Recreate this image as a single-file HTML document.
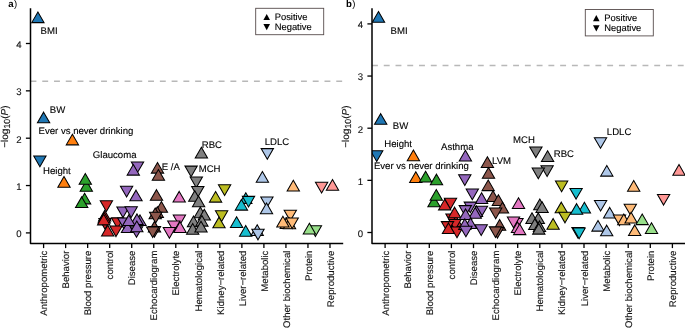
<!DOCTYPE html>
<html><head><meta charset="utf-8"><style>
html,body{margin:0;padding:0;background:#fff;width:685px;height:328px;overflow:hidden}
svg{display:block;will-change:transform}
text{font-family:"Liberation Sans",sans-serif;fill:#1a1a1a;text-rendering:geometricPrecision}
.tk{font-size:9.6px;fill:#111;stroke:#111;stroke-width:0.12px}
.lb{font-size:9.6px;fill:#000;stroke:#000;stroke-width:0.12px}
.lg{font-size:9.4px;fill:#000;stroke:#000;stroke-width:0.12px}
.pl{font-size:9.6px;font-weight:bold;fill:#000}
</style></head><body>
<svg width="685" height="328" viewBox="0 0 685 328">
<rect width="685" height="328" fill="#fff"/>
<line x1="30.5" y1="81.25" x2="343.2" y2="81.25" stroke="#B8B8B8" stroke-width="1.5" stroke-dasharray="5.9 5.86"/>
<clipPath id="cp0"><rect x="30.5" y="0" width="312.7" height="243.5"/></clipPath><g clip-path="url(#cp0)">
<polygon points="37.90,11.95 44.05,22.60 31.75,22.60" fill="#1F77B4" stroke="#000" stroke-width="1.05" stroke-linejoin="miter"/>
<polygon points="43.60,112.15 49.75,122.80 37.45,122.80" fill="#1F77B4" stroke="#000" stroke-width="1.05" stroke-linejoin="miter"/>
<polygon points="39.90,166.70 46.05,156.05 33.75,156.05" fill="#1F77B4" stroke="#000" stroke-width="1.05" stroke-linejoin="miter"/>
<polygon points="72.40,134.20 78.55,144.85 66.25,144.85" fill="#FF7F0E" stroke="#000" stroke-width="1.05" stroke-linejoin="miter"/>
<polygon points="64.00,176.60 70.15,187.25 57.85,187.25" fill="#FF7F0E" stroke="#000" stroke-width="1.05" stroke-linejoin="miter"/>
<polygon points="84.60,193.20 90.75,203.85 78.45,203.85" fill="#2CA02C" stroke="#000" stroke-width="1.05" stroke-linejoin="miter"/>
<polygon points="81.70,196.90 87.85,207.55 75.55,207.55" fill="#2CA02C" stroke="#000" stroke-width="1.05" stroke-linejoin="miter"/>
<polygon points="86.30,180.50 92.45,191.15 80.15,191.15" fill="#2CA02C" stroke="#000" stroke-width="1.05" stroke-linejoin="miter"/>
<polygon points="85.30,173.50 91.45,184.15 79.15,184.15" fill="#2CA02C" stroke="#000" stroke-width="1.05" stroke-linejoin="miter"/>
<polygon points="106.40,211.45 112.55,200.80 100.25,200.80" fill="#D62728" stroke="#000" stroke-width="1.05" stroke-linejoin="miter"/>
<polygon points="105.00,229.10 111.15,218.45 98.85,218.45" fill="#D62728" stroke="#000" stroke-width="1.05" stroke-linejoin="miter"/>
<polygon points="117.50,228.50 123.65,217.85 111.35,217.85" fill="#D62728" stroke="#000" stroke-width="1.05" stroke-linejoin="miter"/>
<polygon points="104.70,210.40 110.85,221.05 98.55,221.05" fill="#D62728" stroke="#000" stroke-width="1.05" stroke-linejoin="miter"/>
<polygon points="104.20,212.40 110.35,223.05 98.05,223.05" fill="#D62728" stroke="#000" stroke-width="1.05" stroke-linejoin="miter"/>
<polygon points="103.70,214.20 109.85,224.85 97.55,224.85" fill="#D62728" stroke="#000" stroke-width="1.05" stroke-linejoin="miter"/>
<polygon points="116.00,236.60 122.15,225.95 109.85,225.95" fill="#D62728" stroke="#000" stroke-width="1.05" stroke-linejoin="miter"/>
<polygon points="107.70,225.35 113.85,236.00 101.55,236.00" fill="#D62728" stroke="#000" stroke-width="1.05" stroke-linejoin="miter"/>
<polygon points="126.60,196.90 132.75,186.25 120.45,186.25" fill="#9467BD" stroke="#000" stroke-width="1.05" stroke-linejoin="miter"/>
<polygon points="137.50,172.60 143.65,161.95 131.35,161.95" fill="#9467BD" stroke="#000" stroke-width="1.05" stroke-linejoin="miter"/>
<polygon points="133.30,164.45 139.45,175.10 127.15,175.10" fill="#9467BD" stroke="#000" stroke-width="1.05" stroke-linejoin="miter"/>
<polygon points="136.00,190.15 142.15,200.80 129.85,200.80" fill="#9467BD" stroke="#000" stroke-width="1.05" stroke-linejoin="miter"/>
<polygon points="140.00,214.90 146.15,225.55 133.85,225.55" fill="#9467BD" stroke="#000" stroke-width="1.05" stroke-linejoin="miter"/>
<polygon points="137.00,213.90 143.15,224.55 130.85,224.55" fill="#9467BD" stroke="#000" stroke-width="1.05" stroke-linejoin="miter"/>
<polygon points="127.50,221.90 133.65,232.55 121.35,232.55" fill="#9467BD" stroke="#000" stroke-width="1.05" stroke-linejoin="miter"/>
<polygon points="123.80,228.60 129.95,217.95 117.65,217.95" fill="#9467BD" stroke="#000" stroke-width="1.05" stroke-linejoin="miter"/>
<polygon points="128.80,214.90 134.95,225.55 122.65,225.55" fill="#9467BD" stroke="#000" stroke-width="1.05" stroke-linejoin="miter"/>
<polygon points="136.50,237.30 142.65,226.65 130.35,226.65" fill="#9467BD" stroke="#000" stroke-width="1.05" stroke-linejoin="miter"/>
<polygon points="136.80,221.00 142.95,231.65 130.65,231.65" fill="#9467BD" stroke="#000" stroke-width="1.05" stroke-linejoin="miter"/>
<polygon points="123.00,217.60 129.15,206.95 116.85,206.95" fill="#9467BD" stroke="#000" stroke-width="1.05" stroke-linejoin="miter"/>
<polygon points="131.20,217.40 137.35,206.75 125.05,206.75" fill="#9467BD" stroke="#000" stroke-width="1.05" stroke-linejoin="miter"/>
<polygon points="157.50,162.45 163.65,173.10 151.35,173.10" fill="#8C564B" stroke="#000" stroke-width="1.05" stroke-linejoin="miter"/>
<polygon points="158.40,169.55 164.55,180.20 152.25,180.20" fill="#8C564B" stroke="#000" stroke-width="1.05" stroke-linejoin="miter"/>
<polygon points="156.50,189.65 162.65,200.30 150.35,200.30" fill="#8C564B" stroke="#000" stroke-width="1.05" stroke-linejoin="miter"/>
<polygon points="161.40,201.55 167.55,212.20 155.25,212.20" fill="#8C564B" stroke="#000" stroke-width="1.05" stroke-linejoin="miter"/>
<polygon points="157.30,206.70 163.45,217.35 151.15,217.35" fill="#8C564B" stroke="#000" stroke-width="1.05" stroke-linejoin="miter"/>
<polygon points="155.20,208.10 161.35,218.75 149.05,218.75" fill="#8C564B" stroke="#000" stroke-width="1.05" stroke-linejoin="miter"/>
<polygon points="155.70,222.95 161.85,212.30 149.55,212.30" fill="#8C564B" stroke="#000" stroke-width="1.05" stroke-linejoin="miter"/>
<polygon points="154.50,221.40 160.65,232.05 148.35,232.05" fill="#8C564B" stroke="#000" stroke-width="1.05" stroke-linejoin="miter"/>
<polygon points="154.50,237.10 160.65,226.45 148.35,226.45" fill="#8C564B" stroke="#000" stroke-width="1.05" stroke-linejoin="miter"/>
<polygon points="152.70,237.55 158.85,226.90 146.55,226.90" fill="#8C564B" stroke="#000" stroke-width="1.05" stroke-linejoin="miter"/>
<polygon points="179.20,191.40 185.35,202.05 173.05,202.05" fill="#E377C2" stroke="#000" stroke-width="1.05" stroke-linejoin="miter"/>
<polygon points="179.40,225.65 185.55,215.00 173.25,215.00" fill="#E377C2" stroke="#000" stroke-width="1.05" stroke-linejoin="miter"/>
<polygon points="173.80,231.55 179.95,220.90 167.65,220.90" fill="#E377C2" stroke="#000" stroke-width="1.05" stroke-linejoin="miter"/>
<polygon points="180.00,221.75 186.15,232.40 173.85,232.40" fill="#E377C2" stroke="#000" stroke-width="1.05" stroke-linejoin="miter"/>
<polygon points="169.40,238.15 175.55,227.50 163.25,227.50" fill="#E377C2" stroke="#000" stroke-width="1.05" stroke-linejoin="miter"/>
<polygon points="201.40,147.25 207.55,157.90 195.25,157.90" fill="#7F7F7F" stroke="#000" stroke-width="1.05" stroke-linejoin="miter"/>
<polygon points="191.10,176.75 197.25,166.10 184.95,166.10" fill="#7F7F7F" stroke="#000" stroke-width="1.05" stroke-linejoin="miter"/>
<polygon points="196.30,187.65 202.45,177.00 190.15,177.00" fill="#7F7F7F" stroke="#000" stroke-width="1.05" stroke-linejoin="miter"/>
<polygon points="197.80,197.15 203.95,186.50 191.65,186.50" fill="#7F7F7F" stroke="#000" stroke-width="1.05" stroke-linejoin="miter"/>
<polygon points="194.80,190.65 200.95,201.30 188.65,201.30" fill="#7F7F7F" stroke="#000" stroke-width="1.05" stroke-linejoin="miter"/>
<polygon points="198.60,196.05 204.75,206.70 192.45,206.70" fill="#7F7F7F" stroke="#000" stroke-width="1.05" stroke-linejoin="miter"/>
<polygon points="200.30,207.05 206.45,217.70 194.15,217.70" fill="#7F7F7F" stroke="#000" stroke-width="1.05" stroke-linejoin="miter"/>
<polygon points="204.30,209.25 210.45,219.90 198.15,219.90" fill="#7F7F7F" stroke="#000" stroke-width="1.05" stroke-linejoin="miter"/>
<polygon points="193.50,216.05 199.65,226.70 187.35,226.70" fill="#7F7F7F" stroke="#000" stroke-width="1.05" stroke-linejoin="miter"/>
<polygon points="201.90,215.45 208.05,226.10 195.75,226.10" fill="#7F7F7F" stroke="#000" stroke-width="1.05" stroke-linejoin="miter"/>
<polygon points="192.70,223.55 198.85,234.20 186.55,234.20" fill="#7F7F7F" stroke="#000" stroke-width="1.05" stroke-linejoin="miter"/>
<polygon points="201.00,221.35 207.15,232.00 194.85,232.00" fill="#7F7F7F" stroke="#000" stroke-width="1.05" stroke-linejoin="miter"/>
<polygon points="224.60,195.45 230.75,184.80 218.45,184.80" fill="#BCBD22" stroke="#000" stroke-width="1.05" stroke-linejoin="miter"/>
<polygon points="215.60,191.45 221.75,202.10 209.45,202.10" fill="#BCBD22" stroke="#000" stroke-width="1.05" stroke-linejoin="miter"/>
<polygon points="221.60,221.45 227.75,210.80 215.45,210.80" fill="#BCBD22" stroke="#000" stroke-width="1.05" stroke-linejoin="miter"/>
<polygon points="219.00,217.15 225.15,227.80 212.85,227.80" fill="#BCBD22" stroke="#000" stroke-width="1.05" stroke-linejoin="miter"/>
<polygon points="245.80,192.70 251.95,203.35 239.65,203.35" fill="#17BECF" stroke="#000" stroke-width="1.05" stroke-linejoin="miter"/>
<polygon points="248.50,207.00 254.65,196.35 242.35,196.35" fill="#17BECF" stroke="#000" stroke-width="1.05" stroke-linejoin="miter"/>
<polygon points="241.40,199.45 247.55,210.10 235.25,210.10" fill="#17BECF" stroke="#000" stroke-width="1.05" stroke-linejoin="miter"/>
<polygon points="236.60,216.75 242.75,227.40 230.45,227.40" fill="#17BECF" stroke="#000" stroke-width="1.05" stroke-linejoin="miter"/>
<polygon points="245.70,225.55 251.85,236.20 239.55,236.20" fill="#17BECF" stroke="#000" stroke-width="1.05" stroke-linejoin="miter"/>
<polygon points="267.30,159.25 273.45,148.60 261.15,148.60" fill="#AEC7E8" stroke="#000" stroke-width="1.05" stroke-linejoin="miter"/>
<polygon points="262.40,171.55 268.55,182.20 256.25,182.20" fill="#AEC7E8" stroke="#000" stroke-width="1.05" stroke-linejoin="miter"/>
<polygon points="266.90,207.60 273.05,196.95 260.75,196.95" fill="#AEC7E8" stroke="#000" stroke-width="1.05" stroke-linejoin="miter"/>
<polygon points="266.50,203.05 272.65,213.70 260.35,213.70" fill="#AEC7E8" stroke="#000" stroke-width="1.05" stroke-linejoin="miter"/>
<polygon points="257.20,224.80 263.35,235.45 251.05,235.45" fill="#AEC7E8" stroke="#000" stroke-width="1.05" stroke-linejoin="miter"/>
<polygon points="258.00,239.85 264.15,229.20 251.85,229.20" fill="#AEC7E8" stroke="#000" stroke-width="1.05" stroke-linejoin="miter"/>
<polygon points="293.30,180.30 299.45,190.95 287.15,190.95" fill="#FFBB78" stroke="#000" stroke-width="1.05" stroke-linejoin="miter"/>
<polygon points="290.30,220.85 296.45,210.20 284.15,210.20" fill="#FFBB78" stroke="#000" stroke-width="1.05" stroke-linejoin="miter"/>
<polygon points="286.30,217.75 292.45,228.40 280.15,228.40" fill="#FFBB78" stroke="#000" stroke-width="1.05" stroke-linejoin="miter"/>
<polygon points="289.50,218.10 295.65,228.75 283.35,228.75" fill="#FFBB78" stroke="#000" stroke-width="1.05" stroke-linejoin="miter"/>
<polygon points="282.90,216.25 289.05,226.90 276.75,226.90" fill="#FFBB78" stroke="#000" stroke-width="1.05" stroke-linejoin="miter"/>
<polygon points="292.20,228.55 298.35,217.90 286.05,217.90" fill="#FFBB78" stroke="#000" stroke-width="1.05" stroke-linejoin="miter"/>
<polygon points="315.40,236.45 321.55,225.80 309.25,225.80" fill="#98DF8A" stroke="#000" stroke-width="1.05" stroke-linejoin="miter"/>
<polygon points="309.40,223.25 315.55,233.90 303.25,233.90" fill="#98DF8A" stroke="#000" stroke-width="1.05" stroke-linejoin="miter"/>
<polygon points="321.60,192.95 327.75,182.30 315.45,182.30" fill="#FF9896" stroke="#000" stroke-width="1.05" stroke-linejoin="miter"/>
<polygon points="332.50,179.55 338.65,190.20 326.35,190.20" fill="#FF9896" stroke="#000" stroke-width="1.05" stroke-linejoin="miter"/>
</g>
<path d="M30.5,8.2 V243.5 H343.2" fill="none" stroke="#000" stroke-width="1.5" stroke-linecap="butt" stroke-linejoin="round"/>
<line x1="25.9" y1="232.90" x2="30.5" y2="232.90" stroke="#000" stroke-width="1.3"/>
<text x="21.7" y="237.20" text-anchor="end" class="tk">0</text>
<line x1="25.9" y1="185.55" x2="30.5" y2="185.55" stroke="#000" stroke-width="1.3"/>
<text x="21.7" y="189.85" text-anchor="end" class="tk">1</text>
<line x1="25.9" y1="138.20" x2="30.5" y2="138.20" stroke="#000" stroke-width="1.3"/>
<text x="21.7" y="142.50" text-anchor="end" class="tk">2</text>
<line x1="25.9" y1="90.85" x2="30.5" y2="90.85" stroke="#000" stroke-width="1.3"/>
<text x="21.7" y="95.15" text-anchor="end" class="tk">3</text>
<line x1="25.9" y1="43.50" x2="30.5" y2="43.50" stroke="#000" stroke-width="1.3"/>
<text x="21.7" y="47.80" text-anchor="end" class="tk">4</text>
<line x1="43.60" y1="243.5" x2="43.60" y2="248.1" stroke="#000" stroke-width="1.3"/>
<text transform="translate(47.30,250.6) rotate(-90)" text-anchor="end" class="tk">Anthropometric</text>
<line x1="65.63" y1="243.5" x2="65.63" y2="248.1" stroke="#000" stroke-width="1.3"/>
<text transform="translate(69.33,250.6) rotate(-90)" text-anchor="end" class="tk">Behavior</text>
<line x1="87.66" y1="243.5" x2="87.66" y2="248.1" stroke="#000" stroke-width="1.3"/>
<text transform="translate(91.36,250.6) rotate(-90)" text-anchor="end" class="tk">Blood pressure</text>
<line x1="109.69" y1="243.5" x2="109.69" y2="248.1" stroke="#000" stroke-width="1.3"/>
<text transform="translate(113.39,250.6) rotate(-90)" text-anchor="end" class="tk">control</text>
<line x1="131.72" y1="243.5" x2="131.72" y2="248.1" stroke="#000" stroke-width="1.3"/>
<text transform="translate(135.42,250.6) rotate(-90)" text-anchor="end" class="tk">Disease</text>
<line x1="153.75" y1="243.5" x2="153.75" y2="248.1" stroke="#000" stroke-width="1.3"/>
<text transform="translate(157.45,250.6) rotate(-90)" text-anchor="end" class="tk">Echocardiogram</text>
<line x1="175.78" y1="243.5" x2="175.78" y2="248.1" stroke="#000" stroke-width="1.3"/>
<text transform="translate(179.48,250.6) rotate(-90)" text-anchor="end" class="tk">Electrolyte</text>
<line x1="197.81" y1="243.5" x2="197.81" y2="248.1" stroke="#000" stroke-width="1.3"/>
<text transform="translate(201.51,250.6) rotate(-90)" text-anchor="end" class="tk">Hematological</text>
<line x1="219.84" y1="243.5" x2="219.84" y2="248.1" stroke="#000" stroke-width="1.3"/>
<text transform="translate(223.54,250.6) rotate(-90)" text-anchor="end" class="tk">Kidney−related</text>
<line x1="241.87" y1="243.5" x2="241.87" y2="248.1" stroke="#000" stroke-width="1.3"/>
<text transform="translate(245.57,250.6) rotate(-90)" text-anchor="end" class="tk">Liver−related</text>
<line x1="263.90" y1="243.5" x2="263.90" y2="248.1" stroke="#000" stroke-width="1.3"/>
<text transform="translate(267.60,250.6) rotate(-90)" text-anchor="end" class="tk">Metabolic</text>
<line x1="285.93" y1="243.5" x2="285.93" y2="248.1" stroke="#000" stroke-width="1.3"/>
<text transform="translate(289.63,250.6) rotate(-90)" text-anchor="end" class="tk">Other biochemical</text>
<line x1="307.96" y1="243.5" x2="307.96" y2="248.1" stroke="#000" stroke-width="1.3"/>
<text transform="translate(311.66,250.6) rotate(-90)" text-anchor="end" class="tk">Protein</text>
<line x1="329.99" y1="243.5" x2="329.99" y2="248.1" stroke="#000" stroke-width="1.3"/>
<text transform="translate(333.69,250.6) rotate(-90)" text-anchor="end" class="tk">Reproductive</text>
<text transform="translate(7.5,126.6) rotate(-90)" text-anchor="middle" class="tk" style="font-size:10px">−log<tspan font-size="8.8" dy="2.2">10</tspan><tspan dy="-2.2">(</tspan><tspan font-style="italic">P</tspan>)</text>
<text x="8.2" y="7" class="pl">a<tspan dx="0.5" style="font-weight:normal">)</tspan></text>
<line x1="372.0" y1="65.6" x2="686" y2="65.6" stroke="#B8B8B8" stroke-width="1.5" stroke-dasharray="5.9 5.86"/>
<clipPath id="cp1"><rect x="372.0" y="0" width="314.0" height="243.5"/></clipPath><g clip-path="url(#cp1)">
<polygon points="378.50,11.50 384.65,22.15 372.35,22.15" fill="#1F77B4" stroke="#000" stroke-width="1.05" stroke-linejoin="miter"/>
<polygon points="380.70,113.65 386.85,124.30 374.55,124.30" fill="#1F77B4" stroke="#000" stroke-width="1.05" stroke-linejoin="miter"/>
<polygon points="376.70,161.40 382.85,150.75 370.55,150.75" fill="#1F77B4" stroke="#000" stroke-width="1.05" stroke-linejoin="miter"/>
<polygon points="413.40,150.05 419.55,160.70 407.25,160.70" fill="#FF7F0E" stroke="#000" stroke-width="1.05" stroke-linejoin="miter"/>
<polygon points="415.80,171.85 421.95,182.50 409.65,182.50" fill="#FF7F0E" stroke="#000" stroke-width="1.05" stroke-linejoin="miter"/>
<polygon points="425.60,171.35 431.75,182.00 419.45,182.00" fill="#2CA02C" stroke="#000" stroke-width="1.05" stroke-linejoin="miter"/>
<polygon points="436.50,174.15 442.65,184.80 430.35,184.80" fill="#2CA02C" stroke="#000" stroke-width="1.05" stroke-linejoin="miter"/>
<polygon points="434.00,196.15 440.15,206.80 427.85,206.80" fill="#2CA02C" stroke="#000" stroke-width="1.05" stroke-linejoin="miter"/>
<polygon points="436.30,189.55 442.45,200.20 430.15,200.20" fill="#2CA02C" stroke="#000" stroke-width="1.05" stroke-linejoin="miter"/>
<polygon points="450.50,208.90 456.65,198.25 444.35,198.25" fill="#D62728" stroke="#000" stroke-width="1.05" stroke-linejoin="miter"/>
<polygon points="452.00,224.60 458.15,213.95 445.85,213.95" fill="#D62728" stroke="#000" stroke-width="1.05" stroke-linejoin="miter"/>
<polygon points="456.00,215.90 462.15,226.55 449.85,226.55" fill="#D62728" stroke="#000" stroke-width="1.05" stroke-linejoin="miter"/>
<polygon points="444.70,199.20 450.85,209.85 438.55,209.85" fill="#D62728" stroke="#000" stroke-width="1.05" stroke-linejoin="miter"/>
<polygon points="454.60,207.15 460.75,217.80 448.45,217.80" fill="#D62728" stroke="#000" stroke-width="1.05" stroke-linejoin="miter"/>
<polygon points="455.00,230.10 461.15,219.45 448.85,219.45" fill="#D62728" stroke="#000" stroke-width="1.05" stroke-linejoin="miter"/>
<polygon points="447.50,232.25 453.65,221.60 441.35,221.60" fill="#D62728" stroke="#000" stroke-width="1.05" stroke-linejoin="miter"/>
<polygon points="448.50,222.90 454.65,233.55 442.35,233.55" fill="#D62728" stroke="#000" stroke-width="1.05" stroke-linejoin="miter"/>
<polygon points="457.00,237.70 463.15,227.05 450.85,227.05" fill="#D62728" stroke="#000" stroke-width="1.05" stroke-linejoin="miter"/>
<polygon points="465.40,150.35 471.55,161.00 459.25,161.00" fill="#9467BD" stroke="#000" stroke-width="1.05" stroke-linejoin="miter"/>
<polygon points="464.80,185.45 470.95,174.80 458.65,174.80" fill="#9467BD" stroke="#000" stroke-width="1.05" stroke-linejoin="miter"/>
<polygon points="472.30,199.70 478.45,189.05 466.15,189.05" fill="#9467BD" stroke="#000" stroke-width="1.05" stroke-linejoin="miter"/>
<polygon points="481.60,192.85 487.75,203.50 475.45,203.50" fill="#9467BD" stroke="#000" stroke-width="1.05" stroke-linejoin="miter"/>
<polygon points="470.30,212.75 476.45,202.10 464.15,202.10" fill="#9467BD" stroke="#000" stroke-width="1.05" stroke-linejoin="miter"/>
<polygon points="465.30,216.25 471.45,205.60 459.15,205.60" fill="#9467BD" stroke="#000" stroke-width="1.05" stroke-linejoin="miter"/>
<polygon points="481.40,216.80 487.55,206.15 475.25,206.15" fill="#9467BD" stroke="#000" stroke-width="1.05" stroke-linejoin="miter"/>
<polygon points="476.50,205.90 482.65,216.55 470.35,216.55" fill="#9467BD" stroke="#000" stroke-width="1.05" stroke-linejoin="miter"/>
<polygon points="475.20,207.50 481.35,218.15 469.05,218.15" fill="#9467BD" stroke="#000" stroke-width="1.05" stroke-linejoin="miter"/>
<polygon points="465.60,208.90 471.75,219.55 459.45,219.55" fill="#9467BD" stroke="#000" stroke-width="1.05" stroke-linejoin="miter"/>
<polygon points="470.50,217.90 476.65,228.55 464.35,228.55" fill="#9467BD" stroke="#000" stroke-width="1.05" stroke-linejoin="miter"/>
<polygon points="464.80,218.85 470.95,229.50 458.65,229.50" fill="#9467BD" stroke="#000" stroke-width="1.05" stroke-linejoin="miter"/>
<polygon points="465.90,236.80 472.05,226.15 459.75,226.15" fill="#9467BD" stroke="#000" stroke-width="1.05" stroke-linejoin="miter"/>
<polygon points="481.20,235.45 487.35,224.80 475.05,224.80" fill="#9467BD" stroke="#000" stroke-width="1.05" stroke-linejoin="miter"/>
<polygon points="487.40,156.85 493.55,167.50 481.25,167.50" fill="#8C564B" stroke="#000" stroke-width="1.05" stroke-linejoin="miter"/>
<polygon points="488.50,167.55 494.65,178.20 482.35,178.20" fill="#8C564B" stroke="#000" stroke-width="1.05" stroke-linejoin="miter"/>
<polygon points="488.20,179.95 494.35,190.60 482.05,190.60" fill="#8C564B" stroke="#000" stroke-width="1.05" stroke-linejoin="miter"/>
<polygon points="493.00,190.80 499.15,201.45 486.85,201.45" fill="#8C564B" stroke="#000" stroke-width="1.05" stroke-linejoin="miter"/>
<polygon points="498.40,194.75 504.55,205.40 492.25,205.40" fill="#8C564B" stroke="#000" stroke-width="1.05" stroke-linejoin="miter"/>
<polygon points="502.50,202.25 508.65,212.90 496.35,212.90" fill="#8C564B" stroke="#000" stroke-width="1.05" stroke-linejoin="miter"/>
<polygon points="495.70,218.70 501.85,208.05 489.55,208.05" fill="#8C564B" stroke="#000" stroke-width="1.05" stroke-linejoin="miter"/>
<polygon points="499.60,219.60 505.75,230.25 493.45,230.25" fill="#8C564B" stroke="#000" stroke-width="1.05" stroke-linejoin="miter"/>
<polygon points="497.50,238.10 503.65,227.45 491.35,227.45" fill="#8C564B" stroke="#000" stroke-width="1.05" stroke-linejoin="miter"/>
<polygon points="495.50,237.50 501.65,226.85 489.35,226.85" fill="#8C564B" stroke="#000" stroke-width="1.05" stroke-linejoin="miter"/>
<polygon points="518.50,197.75 524.65,208.40 512.35,208.40" fill="#E377C2" stroke="#000" stroke-width="1.05" stroke-linejoin="miter"/>
<polygon points="517.00,229.10 523.15,218.45 510.85,218.45" fill="#E377C2" stroke="#000" stroke-width="1.05" stroke-linejoin="miter"/>
<polygon points="513.50,227.70 519.65,217.05 507.35,217.05" fill="#E377C2" stroke="#000" stroke-width="1.05" stroke-linejoin="miter"/>
<polygon points="517.50,221.90 523.65,232.55 511.35,232.55" fill="#E377C2" stroke="#000" stroke-width="1.05" stroke-linejoin="miter"/>
<polygon points="519.70,223.95 525.85,234.60 513.55,234.60" fill="#E377C2" stroke="#000" stroke-width="1.05" stroke-linejoin="miter"/>
<polygon points="535.90,157.60 542.05,146.95 529.75,146.95" fill="#7F7F7F" stroke="#000" stroke-width="1.05" stroke-linejoin="miter"/>
<polygon points="547.60,150.75 553.75,161.40 541.45,161.40" fill="#7F7F7F" stroke="#000" stroke-width="1.05" stroke-linejoin="miter"/>
<polygon points="547.10,176.40 553.25,165.75 540.95,165.75" fill="#7F7F7F" stroke="#000" stroke-width="1.05" stroke-linejoin="miter"/>
<polygon points="538.30,178.70 544.45,168.05 532.15,168.05" fill="#7F7F7F" stroke="#000" stroke-width="1.05" stroke-linejoin="miter"/>
<polygon points="539.80,199.10 545.95,209.75 533.65,209.75" fill="#7F7F7F" stroke="#000" stroke-width="1.05" stroke-linejoin="miter"/>
<polygon points="542.10,201.85 548.25,212.50 535.95,212.50" fill="#7F7F7F" stroke="#000" stroke-width="1.05" stroke-linejoin="miter"/>
<polygon points="538.30,212.90 544.45,223.55 532.15,223.55" fill="#7F7F7F" stroke="#000" stroke-width="1.05" stroke-linejoin="miter"/>
<polygon points="532.00,212.80 538.15,223.45 525.85,223.45" fill="#7F7F7F" stroke="#000" stroke-width="1.05" stroke-linejoin="miter"/>
<polygon points="534.80,218.75 540.95,229.40 528.65,229.40" fill="#7F7F7F" stroke="#000" stroke-width="1.05" stroke-linejoin="miter"/>
<polygon points="539.50,220.90 545.65,231.55 533.35,231.55" fill="#7F7F7F" stroke="#000" stroke-width="1.05" stroke-linejoin="miter"/>
<polygon points="538.80,223.45 544.95,234.10 532.65,234.10" fill="#7F7F7F" stroke="#000" stroke-width="1.05" stroke-linejoin="miter"/>
<polygon points="561.60,191.65 567.75,181.00 555.45,181.00" fill="#BCBD22" stroke="#000" stroke-width="1.05" stroke-linejoin="miter"/>
<polygon points="561.30,202.15 567.45,212.80 555.15,212.80" fill="#BCBD22" stroke="#000" stroke-width="1.05" stroke-linejoin="miter"/>
<polygon points="565.00,222.85 571.15,212.20 558.85,212.20" fill="#BCBD22" stroke="#000" stroke-width="1.05" stroke-linejoin="miter"/>
<polygon points="553.10,218.55 559.25,229.20 546.95,229.20" fill="#BCBD22" stroke="#000" stroke-width="1.05" stroke-linejoin="miter"/>
<polygon points="576.10,199.10 582.25,188.45 569.95,188.45" fill="#17BECF" stroke="#000" stroke-width="1.05" stroke-linejoin="miter"/>
<polygon points="584.40,202.25 590.55,212.90 578.25,212.90" fill="#17BECF" stroke="#000" stroke-width="1.05" stroke-linejoin="miter"/>
<polygon points="576.60,203.65 582.75,214.30 570.45,214.30" fill="#17BECF" stroke="#000" stroke-width="1.05" stroke-linejoin="miter"/>
<polygon points="578.00,238.10 584.15,227.45 571.85,227.45" fill="#17BECF" stroke="#000" stroke-width="1.05" stroke-linejoin="miter"/>
<polygon points="579.10,238.65 585.25,228.00 572.95,228.00" fill="#17BECF" stroke="#000" stroke-width="1.05" stroke-linejoin="miter"/>
<polygon points="600.50,148.30 606.65,137.65 594.35,137.65" fill="#AEC7E8" stroke="#000" stroke-width="1.05" stroke-linejoin="miter"/>
<polygon points="606.80,165.45 612.95,176.10 600.65,176.10" fill="#AEC7E8" stroke="#000" stroke-width="1.05" stroke-linejoin="miter"/>
<polygon points="600.60,211.05 606.75,200.40 594.45,200.40" fill="#AEC7E8" stroke="#000" stroke-width="1.05" stroke-linejoin="miter"/>
<polygon points="609.70,207.40 615.85,218.05 603.55,218.05" fill="#AEC7E8" stroke="#000" stroke-width="1.05" stroke-linejoin="miter"/>
<polygon points="598.00,220.45 604.15,231.10 591.85,231.10" fill="#AEC7E8" stroke="#000" stroke-width="1.05" stroke-linejoin="miter"/>
<polygon points="606.70,225.15 612.85,235.80 600.55,235.80" fill="#AEC7E8" stroke="#000" stroke-width="1.05" stroke-linejoin="miter"/>
<polygon points="633.70,180.50 639.85,191.15 627.55,191.15" fill="#FFBB78" stroke="#000" stroke-width="1.05" stroke-linejoin="miter"/>
<polygon points="630.30,214.80 636.45,204.15 624.15,204.15" fill="#FFBB78" stroke="#000" stroke-width="1.05" stroke-linejoin="miter"/>
<polygon points="619.50,225.60 625.65,214.95 613.35,214.95" fill="#FFBB78" stroke="#000" stroke-width="1.05" stroke-linejoin="miter"/>
<polygon points="623.80,214.10 629.95,224.75 617.65,224.75" fill="#FFBB78" stroke="#000" stroke-width="1.05" stroke-linejoin="miter"/>
<polygon points="631.10,212.35 637.25,223.00 624.95,223.00" fill="#FFBB78" stroke="#000" stroke-width="1.05" stroke-linejoin="miter"/>
<polygon points="634.70,224.90 640.85,235.55 628.55,235.55" fill="#FFBB78" stroke="#000" stroke-width="1.05" stroke-linejoin="miter"/>
<polygon points="642.20,213.95 648.35,224.60 636.05,224.60" fill="#98DF8A" stroke="#000" stroke-width="1.05" stroke-linejoin="miter"/>
<polygon points="651.50,222.75 657.65,233.40 645.35,233.40" fill="#98DF8A" stroke="#000" stroke-width="1.05" stroke-linejoin="miter"/>
<polygon points="663.60,205.10 669.75,194.45 657.45,194.45" fill="#FF9896" stroke="#000" stroke-width="1.05" stroke-linejoin="miter"/>
<polygon points="679.00,164.55 685.15,175.20 672.85,175.20" fill="#FF9896" stroke="#000" stroke-width="1.05" stroke-linejoin="miter"/>
</g>
<path d="M372.0,8.2 V243.5 H686" fill="none" stroke="#000" stroke-width="1.5" stroke-linecap="butt" stroke-linejoin="round"/>
<line x1="367.4" y1="232.50" x2="372.0" y2="232.50" stroke="#000" stroke-width="1.3"/>
<text x="363.2" y="236.80" text-anchor="end" class="tk">0</text>
<line x1="367.4" y1="180.35" x2="372.0" y2="180.35" stroke="#000" stroke-width="1.3"/>
<text x="363.2" y="184.65" text-anchor="end" class="tk">1</text>
<line x1="367.4" y1="128.20" x2="372.0" y2="128.20" stroke="#000" stroke-width="1.3"/>
<text x="363.2" y="132.50" text-anchor="end" class="tk">2</text>
<line x1="367.4" y1="76.05" x2="372.0" y2="76.05" stroke="#000" stroke-width="1.3"/>
<text x="363.2" y="80.35" text-anchor="end" class="tk">3</text>
<line x1="367.4" y1="23.90" x2="372.0" y2="23.90" stroke="#000" stroke-width="1.3"/>
<text x="363.2" y="28.20" text-anchor="end" class="tk">4</text>
<line x1="385.10" y1="243.5" x2="385.10" y2="248.1" stroke="#000" stroke-width="1.3"/>
<text transform="translate(388.60,250.6) rotate(-90)" text-anchor="end" class="tk">Anthropometric</text>
<line x1="407.20" y1="243.5" x2="407.20" y2="248.1" stroke="#000" stroke-width="1.3"/>
<text transform="translate(410.70,250.6) rotate(-90)" text-anchor="end" class="tk">Behavior</text>
<line x1="429.30" y1="243.5" x2="429.30" y2="248.1" stroke="#000" stroke-width="1.3"/>
<text transform="translate(432.80,250.6) rotate(-90)" text-anchor="end" class="tk">Blood pressure</text>
<line x1="451.40" y1="243.5" x2="451.40" y2="248.1" stroke="#000" stroke-width="1.3"/>
<text transform="translate(454.90,250.6) rotate(-90)" text-anchor="end" class="tk">control</text>
<line x1="473.50" y1="243.5" x2="473.50" y2="248.1" stroke="#000" stroke-width="1.3"/>
<text transform="translate(477.00,250.6) rotate(-90)" text-anchor="end" class="tk">Disease</text>
<line x1="495.60" y1="243.5" x2="495.60" y2="248.1" stroke="#000" stroke-width="1.3"/>
<text transform="translate(499.10,250.6) rotate(-90)" text-anchor="end" class="tk">Echocardiogram</text>
<line x1="517.70" y1="243.5" x2="517.70" y2="248.1" stroke="#000" stroke-width="1.3"/>
<text transform="translate(521.20,250.6) rotate(-90)" text-anchor="end" class="tk">Electrolyte</text>
<line x1="539.80" y1="243.5" x2="539.80" y2="248.1" stroke="#000" stroke-width="1.3"/>
<text transform="translate(543.30,250.6) rotate(-90)" text-anchor="end" class="tk">Hematological</text>
<line x1="561.90" y1="243.5" x2="561.90" y2="248.1" stroke="#000" stroke-width="1.3"/>
<text transform="translate(565.40,250.6) rotate(-90)" text-anchor="end" class="tk">Kidney−related</text>
<line x1="584.00" y1="243.5" x2="584.00" y2="248.1" stroke="#000" stroke-width="1.3"/>
<text transform="translate(587.50,250.6) rotate(-90)" text-anchor="end" class="tk">Liver−related</text>
<line x1="606.10" y1="243.5" x2="606.10" y2="248.1" stroke="#000" stroke-width="1.3"/>
<text transform="translate(609.60,250.6) rotate(-90)" text-anchor="end" class="tk">Metabolic</text>
<line x1="628.20" y1="243.5" x2="628.20" y2="248.1" stroke="#000" stroke-width="1.3"/>
<text transform="translate(631.70,250.6) rotate(-90)" text-anchor="end" class="tk">Other biochemical</text>
<line x1="650.30" y1="243.5" x2="650.30" y2="248.1" stroke="#000" stroke-width="1.3"/>
<text transform="translate(653.80,250.6) rotate(-90)" text-anchor="end" class="tk">Protein</text>
<line x1="672.40" y1="243.5" x2="672.40" y2="248.1" stroke="#000" stroke-width="1.3"/>
<text transform="translate(675.90,250.6) rotate(-90)" text-anchor="end" class="tk">Reproductive</text>
<text transform="translate(349.0,126.6) rotate(-90)" text-anchor="middle" class="tk" style="font-size:10px">−log<tspan font-size="8.8" dy="2.2">10</tspan><tspan dy="-2.2">(</tspan><tspan font-style="italic">P</tspan>)</text>
<text x="345.9" y="7" class="pl">b<tspan dx="0.5" style="font-weight:normal">)</tspan></text>
<text x="40.60" y="34.2" class="lb">BMI</text>
<text x="49.80" y="112.7" class="lb">BW</text>
<text x="38.50" y="134.2" class="lb">Ever vs never drinking</text>
<text x="43.00" y="174.4" class="lb">Height</text>
<text x="92.80" y="158.4" class="lb">Glaucoma</text>
<text x="161.80" y="170.0" class="lb">E /A</text>
<text x="201.80" y="147.6" class="lb">RBC</text>
<text x="198.70" y="171.7" class="lb">MCH</text>
<text x="264.70" y="144.9" class="lb">LDLC</text>
<text x="390.60" y="34.2" class="lb">BMI</text>
<text x="392.80" y="128.7" class="lb">BW</text>
<text x="384.30" y="146.8" class="lb">Height</text>
<text x="373.90" y="168.5" class="lb">Ever vs never drinking</text>
<text x="441.00" y="150.4" class="lb">Asthma</text>
<text x="492.05" y="163.6" class="lb">LVM</text>
<text x="513.10" y="143.0" class="lb">MCH</text>
<text x="553.80" y="156.7" class="lb">RBC</text>
<text x="606.80" y="134.8" class="lb">LDLC</text>
<rect x="255.7" y="8.3" width="68" height="26.4" fill="#fff" stroke="#574c4c" stroke-width="0.9"/>
<polygon points="266.7,13.900000000000002 270.0,20.1 263.4,20.1" fill="#000"/>
<polygon points="266.7,30.3 270.0,24.1 263.4,24.1" fill="#000"/>
<text x="274.7" y="20.1" class="lg">Positive</text>
<text x="274.7" y="30.3" class="lg">Negative</text>
<rect x="585.3" y="9.5" width="68" height="26.4" fill="#fff" stroke="#574c4c" stroke-width="0.9"/>
<polygon points="596.3,15.0 599.6,21.2 593,21.2" fill="#000"/>
<polygon points="596.3,31.4 599.6,25.2 593,25.2" fill="#000"/>
<text x="604.3" y="21.2" class="lg">Positive</text>
<text x="604.3" y="31.4" class="lg">Negative</text>
</svg>
</body></html>
